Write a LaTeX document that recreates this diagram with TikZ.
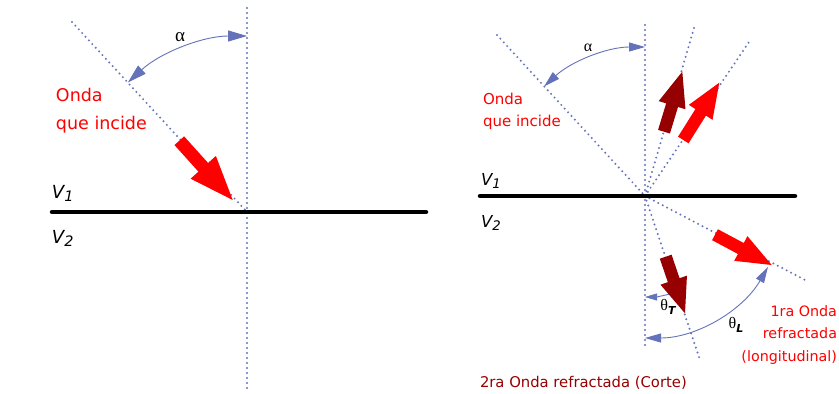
\documentclass[tikz,border=0pt]{standalone}
\usepackage{fontspec}
\setmainfont{DejaVu Sans}
\newfontfamily\grk{Liberation Serif}
\usetikzlibrary{calc,arrows.meta}
\definecolor{dotblue}{RGB}{100,115,190}
\definecolor{arcblue}{RGB}{100,115,185}
\definecolor{darkred}{RGB}{150,0,0}
\newcommand\fatarrow[6]{% colour, tail, tip, shaft half width, head half width, head length
  \coordinate (fa-b) at ($(#3)!#6!(#2)$);
  \fill[#1] ($(#2)!#4!90:(#3)$) -- ($(fa-b)!#4!90:(#3)$) -- ($(fa-b)!#5!90:(#3)$)
    -- (#3) -- ($(fa-b)!#5!-90:(#3)$) -- ($(fa-b)!#4!-90:(#3)$) -- ($(#2)!#4!-90:(#3)$) -- cycle;
}
\newcommand\Vlab[1]{\itshape V\raisebox{-0.22em}{\scalebox{0.8}{#1}}}
\begin{document}
\begin{tikzpicture}[x=1pt,y=-1pt,
  dotline/.style={dotblue, line width=2.2pt, dash pattern=on 0pt off 5pt, line cap=round},
  boundary/.style={black, line width=4.5pt, line cap=round},
  anglearc/.style={arcblue, line width=0.9pt},
  lbl/.style={inner sep=0pt, outer sep=0pt},
  bigtip/.tip={Triangle[length=19pt,width=11pt]},
  midtip/.tip={Triangle[length=16pt,width=9pt]},
  smalltip/.tip={Triangle[length=12pt,width=7pt]}]
\useasboundingbox (0,0) rectangle (839,394);
\fill[white] (0,0) rectangle (839,394);

% ---------------- left panel ----------------
\coordinate (OL) at (247,212);
\coordinate (vLtop) at (247,8);
\coordinate (vLbot) at (247,390);
\coordinate (iLstart) at (72,22);
\coordinate (bLl) at (52,212);
\coordinate (bLr) at (426,212);
\coordinate (aLtail) at (179.3,140.7);
\coordinate (aLtip) at (232.7,200);

\draw[dotline] (vLtop) -- (vLbot);
\draw[dotline] (iLstart) -- (OL);
\draw[boundary] (bLl) -- (bLr);
\draw[anglearc, bigtip-bigtip] ($(OL)+(132.6:176pt)$) arc[start angle=132.6, end angle=90, radius=176pt];
\fatarrow{red}{aLtail}{aLtip}{6.5pt}{17pt}{44pt}

\node[lbl, anchor=base west, red, font=\fontsize{17.5}{20}\selectfont] (ondaL1) at (56,101.5) {Onda};
\node[lbl, anchor=base west, red, font=\fontsize{17.5}{20}\selectfont] (ondaL2) at (56,129) {que incide};
\node[lbl, anchor=base west, font=\fontsize{18}{20}\selectfont] (v1L) at (52,198) {\Vlab{1}};
\node[lbl, anchor=base west, font=\fontsize{18}{20}\selectfont] (v2L) at (52,243) {\Vlab{2}};
\node[lbl, font=\fontsize{19}{20}\selectfont\grk] (alphaL) at (180,37) {α};

% ---------------- right panel ----------------
\coordinate (O) at (645,196);
\coordinate (vRtop) at (645,25);
\coordinate (vRbot) at (645,347);
\coordinate (iRstart) at (497,35);
\coordinate (rflS) at (694,28);
\coordinate (rflL) at (749,42);
\coordinate (rfrL) at (805,280);
\coordinate (rfrS) at (700,360);
\coordinate (bRl) at (480,196);
\coordinate (bRr) at (795,196);

\draw[dotline] (vRtop) -- (vRbot);
\draw[dotline] (iRstart) -- (O);
\draw[dotline] (O) -- (rflS);
\draw[dotline] (O) -- (rflL);
\draw[dotline] (O) -- (rfrL);
\draw[dotline] (O) -- (rfrS);
\draw[boundary] (bRl) -- (bRr);

\draw[anglearc, midtip-midtip] ($(O)+(132.6:149pt)$) arc[start angle=132.6, end angle=90, radius=149pt];
\draw[anglearc, -smalltip] ($(O)+(-71.35:101pt)$) arc[start angle=-71.35, end angle=-90, radius=101pt];
\draw[anglearc, midtip-midtip] ($(O)+(-30:142pt)$) arc[start angle=-30, end angle=-90, radius=142pt];

\coordinate (a1tail) at (664,131.7);  \coordinate (a1tip) at (682.3,71.7);
\coordinate (a2tail) at (683.3,140);  \coordinate (a2tip) at (719.3,82.7);
\coordinate (a3tail) at (715,234.7);  \coordinate (a3tip) at (771.7,265);
\coordinate (a4tail) at (665.7,256.7); \coordinate (a4tip) at (685,313.3);
\fatarrow{darkred}{a1tail}{a1tip}{6.2pt}{14pt}{35pt}
\fatarrow{red}{a2tail}{a2tip}{6.2pt}{14pt}{35pt}
\fatarrow{red}{a3tail}{a3tip}{6.2pt}{14pt}{35pt}
\fatarrow{darkred}{a4tail}{a4tip}{6.2pt}{14pt}{35pt}

\node[lbl, anchor=base west, red, font=\fontsize{15}{18}\selectfont] (ondaR1) at (483,104) {Onda};
\node[lbl, anchor=base west, red, font=\fontsize{15}{18}\selectfont] (ondaR2) at (483,126.7) {que incide};
\node[lbl, anchor=base west, font=\fontsize{16.5}{18}\selectfont] (v1R) at (481,185) {\Vlab{1}};
\node[lbl, anchor=base west, font=\fontsize{16.5}{18}\selectfont] (v2R) at (481,227) {\Vlab{2}};
\node[lbl, font=\fontsize{16}{18}\selectfont\grk] (alphaR) at (588,48) {α};
\node[lbl, font=\fontsize{16}{18}\selectfont] (thetaT) at (668,307) {{\grk θ}\raisebox{-0.3em}{\fontsize{11}{12}\selectfont\itshape\bfseries T}};
\node[lbl, font=\fontsize{16}{18}\selectfont] (thetaL) at (736,325) {{\grk θ}\raisebox{-0.3em}{\fontsize{11}{12}\selectfont\itshape\bfseries L}};

\node[lbl, anchor=base east, red, font=\fontsize{14.3}{17}\selectfont] (r1) at (837,316) {1ra Onda};
\node[lbl, anchor=base east, red, font=\fontsize{14.3}{17}\selectfont] (r2) at (837,338.5) {refractada};
\node[lbl, anchor=base east, red, font=\fontsize{14.3}{17}\selectfont] (r3) at (837,361) {(longitudinal)};
\node[lbl, anchor=base west, darkred, font=\fontsize{14.8}{17}\selectfont] (r4) at (480,387) {2ra Onda refractada (Corte)};
\end{tikzpicture}
\end{document}
